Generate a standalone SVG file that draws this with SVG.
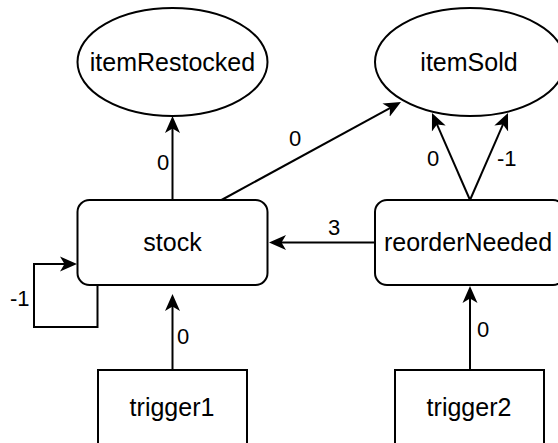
<svg xmlns="http://www.w3.org/2000/svg" width="558" height="443" viewBox="0 0 558 443">
<style>
.shape{fill:#ffffff;stroke:#000000;stroke-width:2}
.node{font-family:"Liberation Sans",Arial,sans-serif;font-size:25px;fill:#000000;text-anchor:middle}
.lbl{font-family:"Liberation Sans",Arial,sans-serif;font-size:22px;fill:#000000}
.edge{fill:none;stroke:#000000;stroke-width:2}
</style>
<defs>
<marker id="arr" viewBox="0 0 17 17" refX="7" refY="8.5" markerWidth="17" markerHeight="17" markerUnits="userSpaceOnUse" orient="auto">
<path d="M17,8.5 L0,1 L4.5,8.5 L0,16 Z" fill="#000000"/>
</marker>
</defs>
<rect width="558" height="443" fill="#ffffff"/>
<g id="itemRestocked">
<ellipse class="shape" cx="172.5" cy="62" rx="95" ry="54"/>
<text class="node" x="172.5" y="71">itemRestocked</text>
</g>
<g id="itemSold">
<ellipse class="shape" cx="470" cy="62" rx="95" ry="54"/>
<text class="node" x="469" y="71">itemSold</text>
</g>
<g id="stock">
<rect class="shape" x="77.5" y="200" width="190" height="85" rx="12" ry="12"/>
<text class="node" x="172.5" y="251">stock</text>
</g>
<g id="reorderNeeded">
<rect class="shape" x="375" y="200" width="190" height="85" rx="12" ry="12"/>
<text class="node" x="468" y="251">reorderNeeded</text>
</g>
<g id="trigger1">
<rect class="shape" x="98" y="370" width="149" height="90"/>
<text class="node" x="172" y="416">trigger1</text>
</g>
<g id="trigger2">
<rect class="shape" x="395" y="370" width="149" height="90"/>
<text class="node" x="469" y="416">trigger2</text>
</g>
<g id="connectors">
<path class="edge" d="M172.5,200 L172.5,126" marker-end="url(#arr)"/>
<path class="edge" d="M221.5,200 L392.2,106.8" marker-end="url(#arr)"/>
<path class="edge" d="M470,200 L436,122.2" marker-end="url(#arr)"/>
<path class="edge" d="M470,200 L504,122.2" marker-end="url(#arr)"/>
<path class="edge" d="M375,242.5 L279,242.5" marker-end="url(#arr)"/>
<path class="edge" d="M172.5,370 L172.5,304" marker-end="url(#arr)"/>
<path class="edge" d="M470,370 L470,296" marker-end="url(#arr)"/>
<path class="edge" d="M97.5,285 L97.5,327 L34,327 L34,264 L67,264" marker-end="url(#arr)"/>
<text class="lbl" x="157" y="170">0</text>
<text class="lbl" x="289" y="146">0</text>
<text class="lbl" x="427" y="166">0</text>
<text class="lbl" x="497" y="166">-1</text>
<text class="lbl" x="328" y="235">3</text>
<text class="lbl" x="10" y="306">-1</text>
<text class="lbl" x="177" y="344">0</text>
<text class="lbl" x="477" y="337">0</text>
</g>
</svg>
